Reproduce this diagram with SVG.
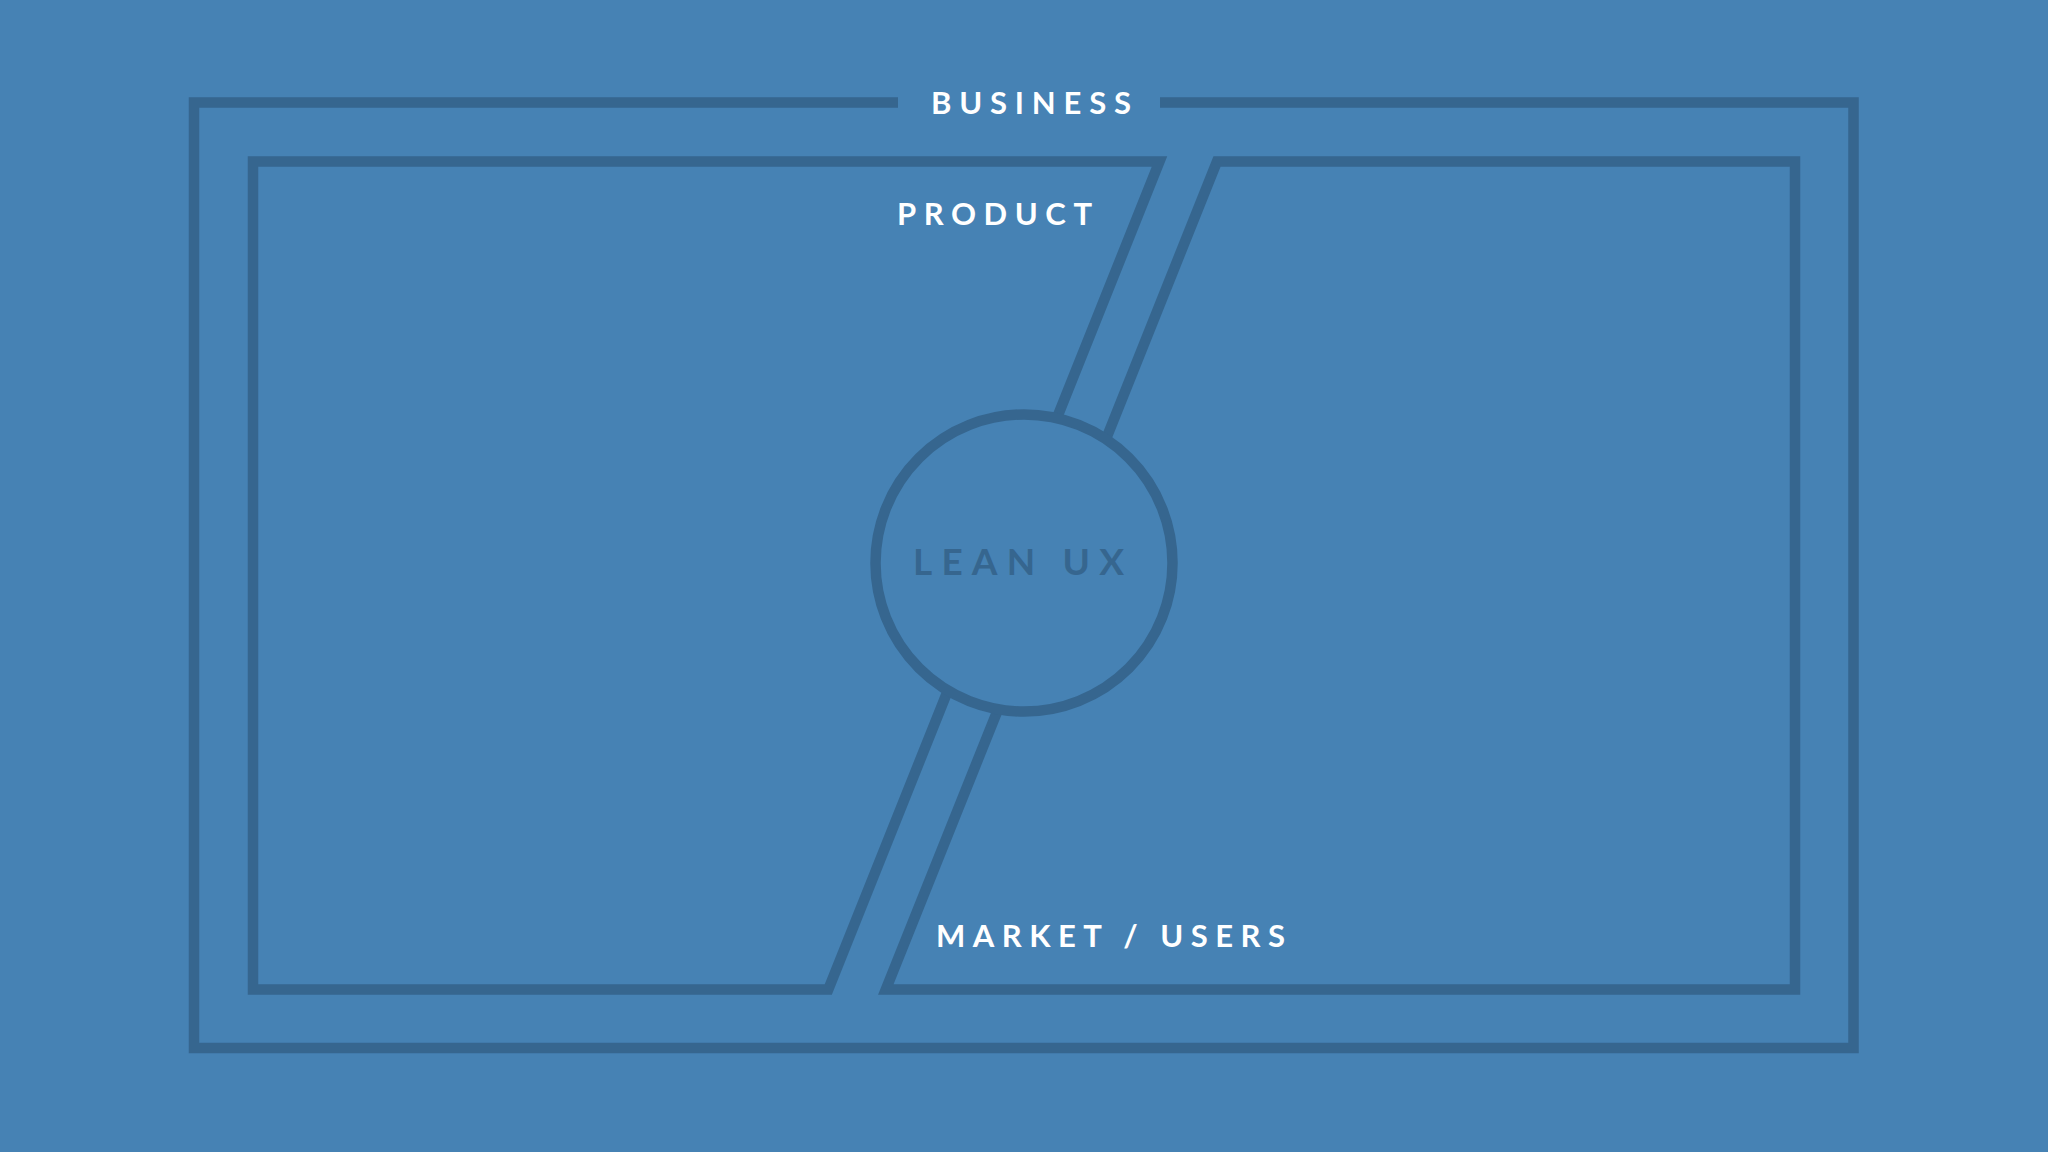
<svg xmlns="http://www.w3.org/2000/svg" width="2048" height="1152" viewBox="0 0 2048 1152">
<style>
.ln{fill:none;stroke:#36668f;stroke-width:10.5;stroke-linejoin:miter;stroke-miterlimit:10}
.lbl{font-family:Lato,"Open Sans","Liberation Sans",sans-serif;font-weight:700;fill:#ffffff;font-size:31px}
.core{font-family:Lato,"Open Sans","Liberation Sans",sans-serif;font-weight:700;fill:#36668f;font-size:37px}
</style>
<rect x="0" y="0" width="2048" height="1152" fill="#4682b4"/>
<g id="business">
<path class="ln" d="M898 102.5 L194 102.5 L194 1048 L1853.5 1048 L1853.5 102.5 L1160 102.5"/>
<text class="lbl" x="931" y="114" textLength="200" lengthAdjust="spacing">BUSINESS</text>
</g>
<g id="product">
<path class="ln" d="M1056.7 418.5 L1159.5 161.5 L253 161.5 L253 989.5 L828.3 989.5 L947.9 690.5"/>
<text class="lbl" x="897" y="225" textLength="195" lengthAdjust="spacing">PRODUCT</text>
</g>
<g id="market">
<path class="ln" d="M1106 439.1 L1217 161.5 L1795 161.5 L1795 989.5 L885.8 989.5 L998.1 709.2"/>
<text class="lbl" x="936" y="947" textLength="349" lengthAdjust="spacing">MARKET / USERS</text>
</g>
<g id="lean-ux">
<circle class="ln" cx="1024" cy="563" r="148.5"/>
<text class="core" x="913" y="575" textLength="211" lengthAdjust="spacing">LEAN UX</text>
</g>
<g id="connectors"></g>
</svg>
